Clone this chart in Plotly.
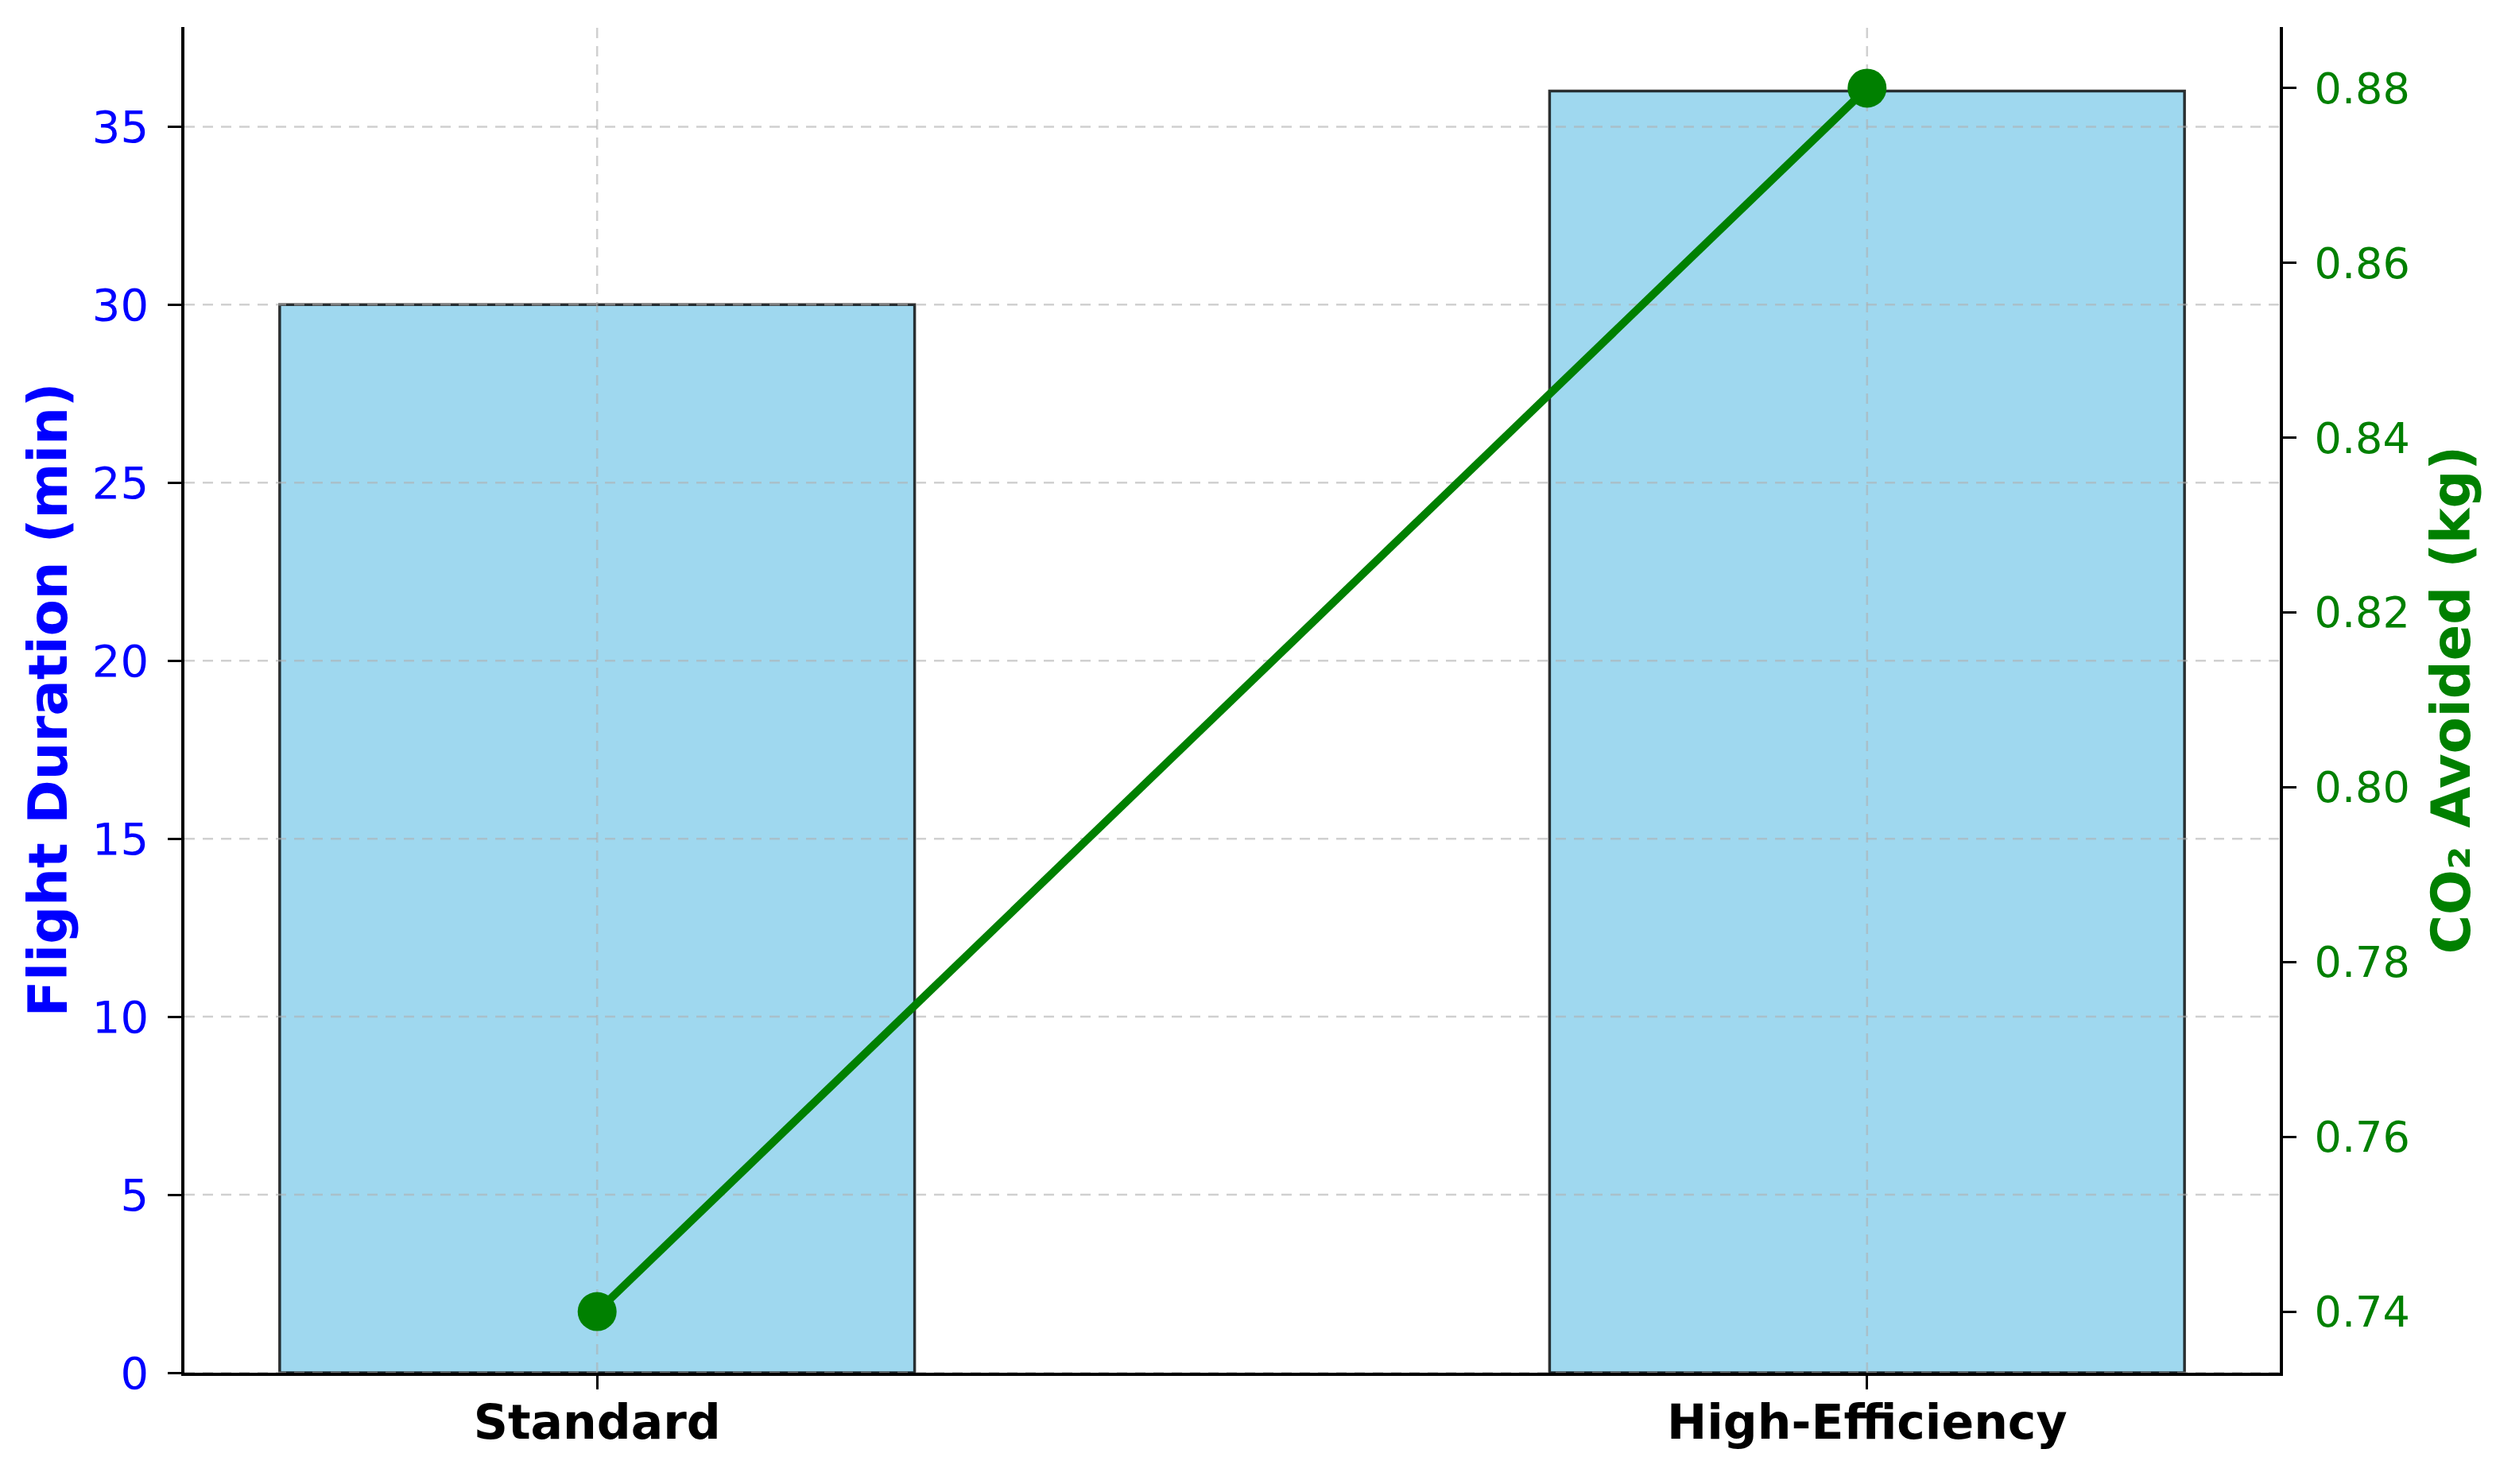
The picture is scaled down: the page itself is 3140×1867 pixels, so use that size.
import plotly.graph_objects as go

categories = ["Standard", "High-Efficiency"]
flight_duration = [30, 36]
co2_avoided = [0.74, 0.88]
left_ticks = [0, 5, 10, 15, 20, 25, 30, 35]
right_ticks = [0.74, 0.76, 0.78, 0.80, 0.82, 0.84, 0.86, 0.88]

xpos = list(range(len(categories)))
bar_w = 0.5
# matplotlib-like autoscale margins (5%)
xr = [xpos[0] - bar_w / 2, xpos[-1] + bar_w / 2]
xpad = 0.05 * (xr[1] - xr[0])
x_range = [xr[0] - xpad, xr[1] + xpad]
y_range = [0, max(flight_duration) * 1.05]
c_lo, c_hi = min(co2_avoided), max(co2_avoided)
cpad = 0.05 * (c_hi - c_lo)
y2_range = [c_lo - cpad, c_hi + cpad]

FONT = "DejaVu Sans"
grid_color = "rgba(176,176,176,0.6)"

fig = go.Figure()

fig.add_trace(go.Bar(
    x=xpos, y=flight_duration, width=bar_w,
    marker=dict(color="rgba(135,206,235,0.8)",
                line=dict(color="rgba(0,0,0,0.8)", width=3.5)),
    yaxis="y", showlegend=False, hoverinfo="skip"))

# grid lines drawn above bars (like matplotlib) but below the line
gx, gy = [], []
for t in left_ticks:
    gx += [x_range[0], x_range[1], None]
    gy += [t, t, None]
for p in xpos:
    gx += [p, p, None]
    gy += [y_range[0], y_range[1], None]
fig.add_trace(go.Scatter(
    x=gx, y=gy, mode="lines",
    line=dict(color=grid_color, width=2.5, dash="13px,10px"),
    yaxis="y", showlegend=False, hoverinfo="skip"))

fig.add_trace(go.Scatter(
    x=xpos, y=co2_avoided, mode="lines+markers",
    line=dict(color="#008000", width=10),
    marker=dict(color="#008000", size=49),
    yaxis="y2", showlegend=False))

fig.update_layout(
    width=3132, height=1859,
    margin=dict(l=224, r=272, t=26, b=140),
    paper_bgcolor="white", plot_bgcolor="white",
    font=dict(family=FONT),
    xaxis=dict(
        range=x_range, tickvals=xpos, ticktext=categories,
        showgrid=False, zeroline=False, automargin=False,
        showline=True, linecolor="black", linewidth=3.5,
        ticks="outside", ticklen=17, tickwidth=3, tickcolor="black",
        ticklabelstandoff=-10,
        tickfont=dict(family=FONT, size=60, color="black", weight="bold"),
    ),
    yaxis=dict(
        range=y_range, tickvals=left_ticks,
        showgrid=False, zeroline=False, automargin=False,
        showline=True, linecolor="black", linewidth=3.5,
        ticks="outside", ticklen=17, tickwidth=3, tickcolor="black",
        ticklabelstandoff=13,
        tickfont=dict(family=FONT, size=56, color="blue"),
        title=dict(text="Flight Duration (min)", standoff=10,
                   font=dict(family=FONT, size=67, color="blue", weight="bold")),
    ),
    yaxis2=dict(
        range=y2_range, tickvals=right_ticks, tickformat=".2f",
        overlaying="y", side="right",
        showgrid=False, zeroline=False, automargin=False,
        showline=True, linecolor="black", linewidth=3.5,
        ticks="outside", ticklen=17, tickwidth=3, tickcolor="black",
        ticklabelstandoff=12,
        tickfont=dict(family=FONT, size=54, color="green"),
        title=dict(text="CO₂ Avoided (kg)", standoff=30,
                   font=dict(family=FONT, size=67, color="green", weight="bold")),
    ),
)

fig.write_html("out.html", config={"displayModeBar": False})
